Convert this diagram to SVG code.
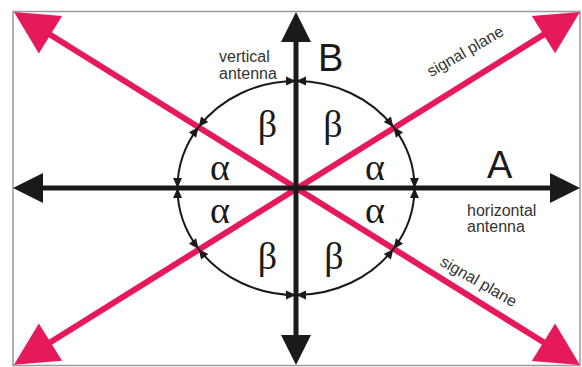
<svg xmlns="http://www.w3.org/2000/svg" width="582" height="367" viewBox="0 0 582 367">
  <style>
    .pink { stroke: #e61a5b; stroke-width: 6; fill: none; marker-start: url(#pinkHead); marker-end: url(#pinkHead); }
    .axis { stroke: #1a1a1a; stroke-width: 5; fill: none; marker-start: url(#blackHead); marker-end: url(#blackHead); }
    .arc { stroke: #1a1a1a; stroke-width: 2; fill: none; marker-start: url(#smallHead); marker-end: url(#smallHead); }
    .lbl { font-family: "Liberation Sans", Arial, sans-serif; font-size: 16px; fill: #333333; }
    .big { font-family: "Liberation Sans", Arial, sans-serif; font-size: 38px; fill: #1a1a1a; }
    .greek { font-family: "Liberation Serif", "DejaVu Serif", serif; font-size: 38px; fill: #1a1a1a; text-anchor: middle; }
  </style>
  <defs>
    <marker id="pinkHead" markerUnits="userSpaceOnUse" viewBox="0 0 43 44" markerWidth="43" markerHeight="44" refX="3" refY="22" orient="auto-start-reverse" overflow="visible">
      <path d="M0,0 L43,22 L0,44 Z" fill="#e61a5b"/>
    </marker>
    <marker id="blackHead" markerUnits="userSpaceOnUse" viewBox="0 0 30 30" markerWidth="30" markerHeight="30" refX="2" refY="15" orient="auto-start-reverse" overflow="visible">
      <path d="M0,0 L30,15 L0,30 Z" fill="#1a1a1a"/>
    </marker>
    <marker id="smallHead" markerUnits="userSpaceOnUse" viewBox="0 0 10 9" markerWidth="10" markerHeight="9" refX="10" refY="4.5" orient="auto-start-reverse" overflow="visible">
      <path d="M0,0 L10,4.5 L0,9 Z" fill="#1a1a1a"/>
    </marker>
  </defs>

  <rect id="frame" x="13" y="11.5" width="567" height="354" fill="#ffffff" stroke="#9a9a9a" stroke-width="1.5"/>

  <g id="connectors">
    <line id="signal-plane-1" class="pink" x1="47.9" y1="33.2" x2="546" y2="343.8"/>
    <line id="signal-plane-2" class="pink" x1="546" y1="33.1" x2="47.9" y2="343.7"/>
    <line id="axis-A" class="axis" x1="41" y1="188" x2="552" y2="188"/>
    <line id="axis-B" class="axis" x1="296" y1="40" x2="296" y2="337"/>
    <path class="arc" d="M296,81 A118.5,107 0 0 1 393.4,127.1"/>
    <path class="arc" d="M393.4,127.1 A118.5,107 0 0 1 414.5,188"/>
    <path class="arc" d="M414.5,188 A118.5,107 0 0 1 393.4,248.9"/>
    <path class="arc" d="M393.4,248.9 A118.5,107 0 0 1 296,295"/>
    <path class="arc" d="M296,295 A118.5,107 0 0 1 198.6,248.9"/>
    <path class="arc" d="M198.6,248.9 A118.5,107 0 0 1 177.5,188"/>
    <path class="arc" d="M177.5,188 A118.5,107 0 0 1 198.6,127.1"/>
    <path class="arc" d="M198.6,127.1 A118.5,107 0 0 1 296,81"/>
  </g>

  <g id="label-B">
    <text class="big" x="318" y="71">B</text>
    <text class="lbl" x="219" y="62">vertical</text>
    <text class="lbl" x="219" y="79">antenna</text>
  </g>
  <g id="label-A">
    <text class="big" x="487" y="178">A</text>
    <text class="lbl" x="467" y="216">horizontal</text>
    <text class="lbl" x="467" y="232">antenna</text>
  </g>
  <g id="label-signal-upper">
    <text class="lbl" font-size="15" text-anchor="middle" x="468" y="56" transform="rotate(-30 468 56)">signal plane</text>
  </g>
  <g id="label-signal-lower">
    <text class="lbl" font-size="15" text-anchor="middle" x="476" y="286" transform="rotate(30 476 286)">signal plane</text>
  </g>
  <g id="angles">
    <text class="greek" x="267.5" y="137">β</text>
    <text class="greek" x="333" y="137">β</text>
    <text class="greek" x="220" y="180">α</text>
    <text class="greek" x="375" y="180">α</text>
    <text class="greek" x="220" y="223">α</text>
    <text class="greek" x="375" y="223">α</text>
    <text class="greek" x="267.5" y="269">β</text>
    <text class="greek" x="334" y="269">β</text>
  </g>
</svg>
